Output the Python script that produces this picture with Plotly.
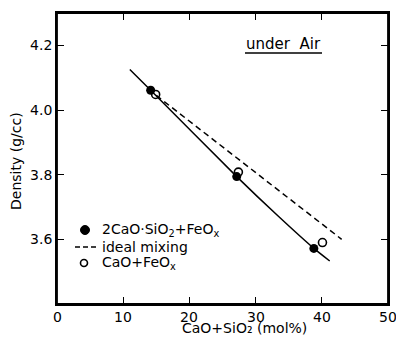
import plotly.graph_objects as go

# Data
filled_x = [14.15, 27.15, 38.8]
filled_y = [4.061, 3.794, 3.572]
open_x = [14.9, 27.4, 40.1]
open_y = [4.048, 3.808, 3.590]
curve_x = [11.0, 14.15, 27.15, 33.4, 38.8, 41.2]
curve_y = [4.125, 4.061, 3.794, 3.672, 3.572, 3.533]
ideal_x = [15.0, 43.0]
ideal_y = [4.045, 3.600]
x_ticks = [0, 10, 20, 30, 40, 50]
y_ticks = [3.6, 3.8, 4.0, 4.2]
legend_labels = ["2CaO·SiO<sub>2</sub>+FeO<sub>x</sub>", "ideal mixing",
                 "CaO+FeO<sub>x</sub>"]

FONT = "DejaVu Sans"
W, H = 396, 338
ML, MR, MT, MB = 57, 8, 13, 34
PW, PH = W - ML - MR, H - MT - MB


def px(xp):
    return (xp - ML) / PW


def py(yp):
    return (H - MB - yp) / PH


fig = go.Figure()
fig.add_trace(go.Scatter(x=curve_x, y=curve_y, mode="lines",
                         line=dict(color="black", width=1.5, shape="spline",
                                   smoothing=0.6),
                         showlegend=False, hoverinfo="skip"))
fig.add_trace(go.Scatter(x=ideal_x, y=ideal_y, mode="lines",
                         line=dict(color="black", width=1.5, dash="6px,4px"),
                         name="ideal mixing", showlegend=False))
fig.add_trace(go.Scatter(x=filled_x, y=filled_y, mode="markers",
                         marker=dict(symbol="circle", size=9, color="black"),
                         name="2CaO·SiO2+FeOx", showlegend=False))
fig.add_trace(go.Scatter(x=open_x, y=open_y, mode="markers",
                         marker=dict(symbol="circle-open", size=8, color="black",
                                     line=dict(width=1.6)),
                         name="CaO+FeOx", showlegend=False))

axis_common = dict(showline=True, linecolor="black", linewidth=1.8,
                   mirror="ticks", ticks="inside", ticklen=7, tickwidth=1.3,
                   tickcolor="black", showgrid=False, zeroline=False,
                   automargin=False,
                   tickfont=dict(family=FONT, size=14, color="black"))

fig.update_xaxes(range=[0, 50], tickvals=x_ticks, showticklabels=False,
                 **axis_common)
fig.update_yaxes(range=[3.4, 4.3], tickvals=y_ticks, tickformat=".1f",
                 **axis_common)

# x tick labels placed on the x scale
for v in x_ticks:
    fig.add_annotation(text=str(v), xref="x", yref="paper", x=v, y=0,
                       yanchor="top", yshift=-3, showarrow=False,
                       font=dict(family=FONT, size=14, color="black"))

# frame
fig.add_shape(type="rect", xref="paper", yref="paper", x0=0, x1=1, y0=0, y1=1,
              line=dict(color="black", width=1.8), layer="above")

# axis titles
fig.add_annotation(text="Density (g/cc)", xref="paper", yref="paper",
                   x=0, y=py(161), xanchor="center", yanchor="middle",
                   xshift=-41, textangle=-90, showarrow=False,
                   font=dict(family=FONT, size=14, color="black"))
fig.add_annotation(text="CaO+SiO₂ (mol%)", xref="paper", yref="paper",
                   x=px(244), y=0, yanchor="bottom", yshift=-34,
                   showarrow=False,
                   font=dict(family=FONT, size=14, color="black"))

# "under Air" label
fig.add_annotation(text="under  Air", xref="paper", yref="paper",
                   x=px(283.5), y=py(44), xanchor="center", yanchor="middle",
                   showarrow=False,
                   font=dict(family=FONT, size=15, color="black"))
fig.add_shape(type="line", xref="paper", yref="paper",
              x0=px(245), x1=px(322), y0=py(53), y1=py(53),
              line=dict(color="black", width=1.5))

# hand-drawn legend (tight row spacing like the original)
rows = [230, 247, 263]
fig.add_shape(type="circle", xref="paper", yref="paper",
              xsizemode="pixel", ysizemode="pixel",
              xanchor=px(85), yanchor=py(rows[0]),
              x0=-4.5, x1=4.5, y0=-4.5, y1=4.5,
              fillcolor="black", line=dict(color="black", width=1))
fig.add_shape(type="line", xref="paper", yref="paper",
              x0=px(75), x1=px(97), y0=py(rows[1]), y1=py(rows[1]),
              line=dict(color="black", width=1.5, dash="5px,3px"))
fig.add_shape(type="circle", xref="paper", yref="paper",
              xsizemode="pixel", ysizemode="pixel",
              xanchor=px(84), yanchor=py(rows[2]),
              x0=-3.5, x1=3.5, y0=-3.5, y1=3.5,
              fillcolor="white", line=dict(color="black", width=1.6))
for lab, r in zip(legend_labels, rows):
    fig.add_annotation(text=lab, xref="paper", yref="paper",
                       x=px(100), y=py(r), xanchor="left", yanchor="middle",
                       showarrow=False,
                       font=dict(family=FONT, size=14, color="black"))

fig.update_layout(
    width=W, height=H,
    margin=dict(l=ML, r=MR, t=MT, b=MB, autoexpand=False),
    paper_bgcolor="white", plot_bgcolor="white",
    font=dict(family=FONT, color="black"),
    showlegend=False,
)

fig.write_html("out.html", config={"displayModeBar": False},
               post_script="document.body.style.margin='0';"
                           "document.body.style.overflow='hidden';")
